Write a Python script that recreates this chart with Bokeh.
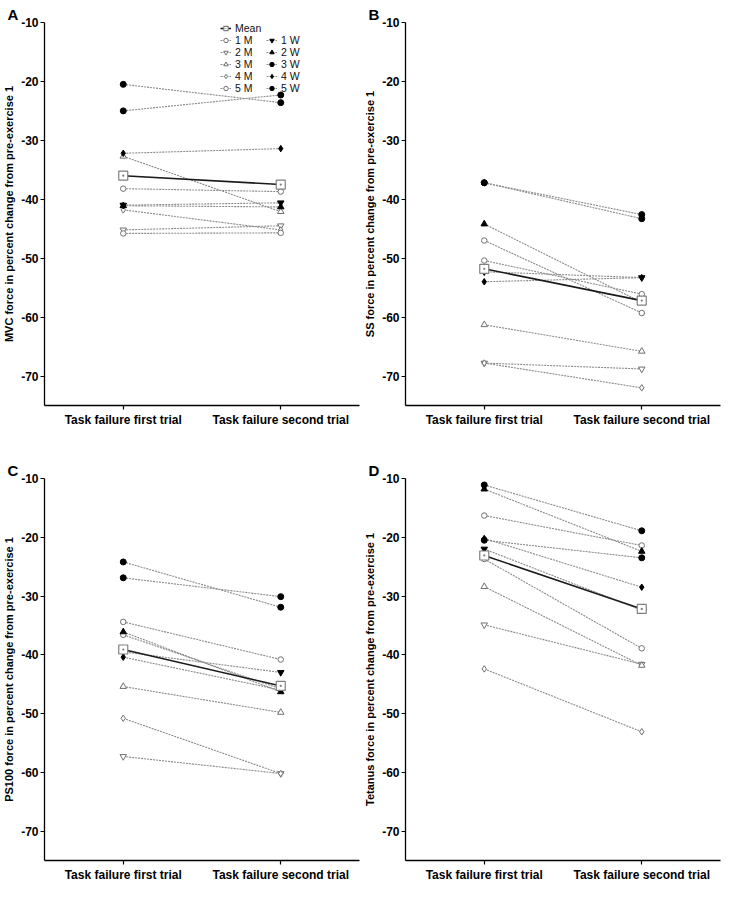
from bokeh.plotting import figure
from bokeh.models import FactorRange, Range1d, FixedTicker, Legend, LegendItem, Title
from bokeh.layouts import gridplot
from bokeh.embed import file_html
from bokeh.resources import INLINE

# ---------------- data ----------------
trials = ["Task failure first trial", "Task failure second trial"]
y_ticks = [-70, -60, -50, -40, -30, -20, -10]
subjects = ["1 M", "2 M", "3 M", "4 M", "5 M", "1 W", "2 W", "3 W", "4 W", "5 W"]

# A: MVC force
mvc_first = [-38.2, -45.2, -32.7, -41.8, -45.8, -41.0, -41.1, -20.5, -32.2, -25.0]
mvc_second = [-38.7, -44.5, -42.1, -45.2, -45.7, -40.6, -41.3, -23.6, -31.4, -22.3]
mvc_mean = [-36.0, -37.5]

# B: SS force
ss_first = [-50.4, -67.8, -61.3, -67.8, -47.0, -52.3, -44.2, -37.2, -54.0, -37.2]
ss_second = [-56.1, -68.8, -65.8, -72.0, -59.3, -53.3, -57.5, -42.6, -53.3, -43.3]
ss_mean = [-51.8, -57.2]

# C: PS100 force
ps_first = [-34.4, -57.3, -45.4, -50.8, -36.6, -39.5, -36.1, -24.2, -40.4, -26.9]
ps_second = [-40.8, -60.2, -49.8, -60.2, -45.8, -43.0, -46.3, -31.9, -46.0, -30.1]
ps_mean = [-39.1, -45.3]

# D: Tetanus force
tet_first = [-16.3, -34.9, -28.4, -42.4, -23.7, -22.0, -11.8, -11.1, -20.2, -20.5]
tet_second = [-21.4, -41.6, -41.8, -53.1, -38.9, -32.4, -22.4, -18.9, -28.5, -23.5]
tet_mean = [-23.1, -32.2]

# ---------------- styles ----------------
markers = ["circle", "inverted_triangle", "triangle", "diamond", "circle",
           "inverted_triangle", "triangle", "circle", "diamond", "circle"]
sizes = [5.5, 6.5, 6.5, 6.5, 5.5, 6.5, 6.5, 6, 6.5, 6]
FONT = "Liberation Sans"
GRAY_LINE = "#8a8a8a"
OPEN_LINE = "#707070"


def make_panel(letter, ylabel, first, second, mean, top, bottom, fh, legend=False):
    p = figure(width=361, height=top + fh + bottom,
               x_range=FactorRange(*trials), y_range=Range1d(-75, -10),
               output_backend="svg", toolbar_location=None, title=None,
               min_border_left=37, min_border_right=2,
               min_border_top=top, min_border_bottom=bottom)
    p.outline_line_color = None
    p.grid.visible = False
    p.background_fill_color = "white"

    for ax in (p.xaxis[0], p.yaxis[0]):
        ax.axis_line_color = "black"
        ax.axis_line_width = 1.3
        ax.major_tick_line_color = "black"
        ax.major_tick_line_width = 1.2
        ax.major_tick_out = 4
        ax.major_tick_in = 0
        ax.minor_tick_out = 0
        ax.minor_tick_in = 0
        ax.major_label_text_font = FONT
        ax.major_label_text_font_style = "bold"
        ax.major_label_text_font_size = "12px"
        ax.major_label_text_color = "black"

    p.xaxis.major_label_standoff = 3
    p.yaxis.ticker = FixedTicker(ticks=y_ticks, minor_ticks=[])
    p.yaxis.major_label_overrides = {t: str(t) for t in y_ticks}
    p.yaxis.major_label_standoff = 2
    p.yaxis.axis_label = ylabel
    p.yaxis.axis_label_text_font = FONT
    p.yaxis.axis_label_text_font_style = "bold"
    p.yaxis.axis_label_text_font_size = "11px"
    p.yaxis.axis_label_text_color = "black"
    p.yaxis.axis_label_standoff = 3

    rends = []
    for i, name in enumerate(subjects):
        ys = [first[i], second[i]]
        ln = p.line(trials, ys, line_color=GRAY_LINE, line_width=1.1, line_dash="2 1")
        is_w = name.endswith("W")
        sc = p.scatter(trials, ys, marker=markers[i], size=sizes[i],
                       fill_color="black" if is_w else "white",
                       line_color="black" if is_w else OPEN_LINE,
                       line_width=1.0)
        rends.append((name, ln, sc))

    mln = p.line(trials, mean, line_color="#1a1a1a", line_width=1.6)
    msc = p.scatter(trials, mean, marker="square_dot", size=9,
                    fill_color="white", line_color="#808080", line_width=1.2)

    t = Title(text=letter, align="left", offset=-37, standoff=0,
              text_font=FONT, text_font_style="bold", text_font_size="15px",
              text_color="black", text_line_height=1.0)
    p.add_layout(t, "above")

    if legend:
        common = dict(orientation="vertical", glyph_width=11, glyph_height=12,
                      label_height=12, spacing=0, padding=0, margin=0,
                      label_standoff=4, label_text_font=FONT,
                      label_text_font_size="10.5px", label_text_color="#111111",
                      border_line_color=None, background_fill_alpha=0)
        items1 = [LegendItem(label="Mean", renderers=[mln, msc])]
        items1 += [LegendItem(label=n, renderers=[l, s]) for n, l, s in rends if n.endswith("M")]
        items2 = [LegendItem(label=n, renderers=[l, s]) for n, l, s in rends if n.endswith("W")]
        p.add_layout(Legend(items=items1, location=(176, 311), **common))
        p.add_layout(Legend(items=items2, location=(222, 311), **common))
    return p


pA = make_panel("A", "MVC force in percent change from pre-exercise 1",
                mvc_first, mvc_second, mvc_mean, 22, 30, 383, legend=True)
pB = make_panel("B", "SS force in percent change from pre-exercise 1",
                ss_first, ss_second, ss_mean, 22, 30, 383)
pC = make_panel("C", "PS100 force in percent change from pre-exercise 1",
                ps_first, ps_second, ps_mean, 43, 21, 385)
pD = make_panel("D", "Tetanus force in percent change from pre-exercise 1",
                tet_first, tet_second, tet_mean, 43, 21, 385)

grid = gridplot([[pA, pB], [pC, pD]], toolbar_location=None)
open("out.html", "w").write(file_html(grid, INLINE))
